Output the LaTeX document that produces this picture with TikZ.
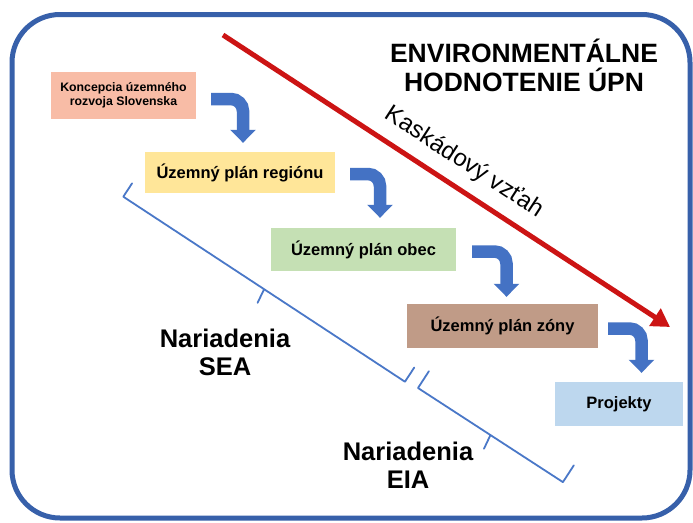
\documentclass[tikz,border=0pt]{standalone}
\usepackage{fontspec}
\setmainfont{Liberation Sans}
\usetikzlibrary{arrows.meta,calc}

\definecolor{frameblue}{HTML}{3760AA}
\definecolor{flowblue}{HTML}{4472C4}
\definecolor{bracketblue}{HTML}{4A78C8}
\definecolor{cascadered}{HTML}{CC1414}
\definecolor{fillkoncepcia}{HTML}{F8BCA6}
\definecolor{fillregion}{HTML}{FFE699}
\definecolor{fillobec}{HTML}{C5E0B4}
\definecolor{fillzona}{HTML}{C09B87}
\definecolor{fillprojekty}{HTML}{BDD7EE}

\begin{document}
\begin{tikzpicture}[x=1pt,y=-1pt,
  planbox/.style={fill=#1, draw=none, inner sep=0pt, align=center,
    font=\fontsize{16.5}{19}\selectfont\bfseries},
  flow/.style={draw=flowblue, line width=12.5pt, rounded corners=12pt,
    -{Triangle[length=13pt,width=25pt]}},
  cascade/.style={draw=cascadered, line width=5pt,
    -{Triangle[length=18pt,width=20pt]}},
  bracket/.style={draw=bracketblue, line width=1.8pt, line join=round, line cap=round},
  biglabel/.style={font=\fontsize{25.5}{28.5}\selectfont\bfseries, align=center,
    inner sep=0pt, anchor=north}]

\useasboundingbox (0,0) rectangle (693,522);
\fill[white] (0,0) rectangle (693,522);

% outer frame
\draw[frameblue, line width=5pt, rounded corners=48pt] (12,14.5) rectangle (690,518);

% title
\node[font=\fontsize{26.5}{29}\selectfont\bfseries, align=center, inner sep=0pt,
  anchor=north] (title) at (524,39) {ENVIRONMENTÁLNE\\HODNOTENIE ÚPN};

% cascade arrow with its label
\coordinate (cs) at (223,35);
\coordinate (ce) at (670,327);
\draw[cascade] (cs) -- (ce);
\node[rotate=-33, anchor=base, inner sep=0pt, font=\fontsize{24}{28}\selectfont]
  (kv) at (461,168) {Kaskádový vzťah};

% planning levels
\node[planbox=fillkoncepcia, minimum width=145pt, minimum height=47pt,
  font=\fontsize{12.3}{14.5}\selectfont\bfseries] (k) at (123.5,95.5)
  {Koncepcia územného\\rozvoja Slovenska};
\node[planbox=fillregion, minimum width=190pt, minimum height=41pt] (r) at (240,172.5)
  {Územný plán regiónu};
\node[planbox=fillobec, minimum width=185pt, minimum height=43pt] (o) at (363.5,249.5)
  {Územný plán obec};
\node[planbox=fillzona, minimum width=191pt, minimum height=44pt] (z) at (502.5,326)
  {Územný plán zóny};
\node[planbox=fillprojekty, minimum width=128pt, minimum height=44pt] (p) at (619,404)
  {Projekty};

% bent arrows between levels
\draw[flow] ($(k.east)+(15,3.5)$) -| ($(r.north)+(3,-9)$);
\draw[flow] ($(r.east)+(15,1.5)$) -| ($(o.north)+(16.5,-10)$);
\draw[flow] ($(o.east)+(16,2)$) -| ($(z.north)+(4,-7)$);
\draw[flow] ($(z.east)+(10,2.5)$) -| ($(p.north)+(22.5,-9)$);

% brackets for the regulations
\begin{scope}[shift={(123.3,196.7)}, rotate=-33.3]
  \draw[bracket] (0,-16) -- (0,0) -- (168.5,0) -- (170.5,15)
                 (168.5,0) -- (337,0) -- (337,-17);
\end{scope}
\begin{scope}[shift={(418,388)}, rotate=-33]
  \draw[bracket] (0,-20) -- (0,0) -- (86.4,0) -- (88.4,15)
                 (86.4,0) -- (172.8,0) -- (172.8,-20);
\end{scope}

\node[biglabel] (sea) at (225,328.7) {Nariadenia\\SEA};
\node[biglabel] (eia) at (408,441.7) {Nariadenia\\EIA};

\end{tikzpicture}
\end{document}
